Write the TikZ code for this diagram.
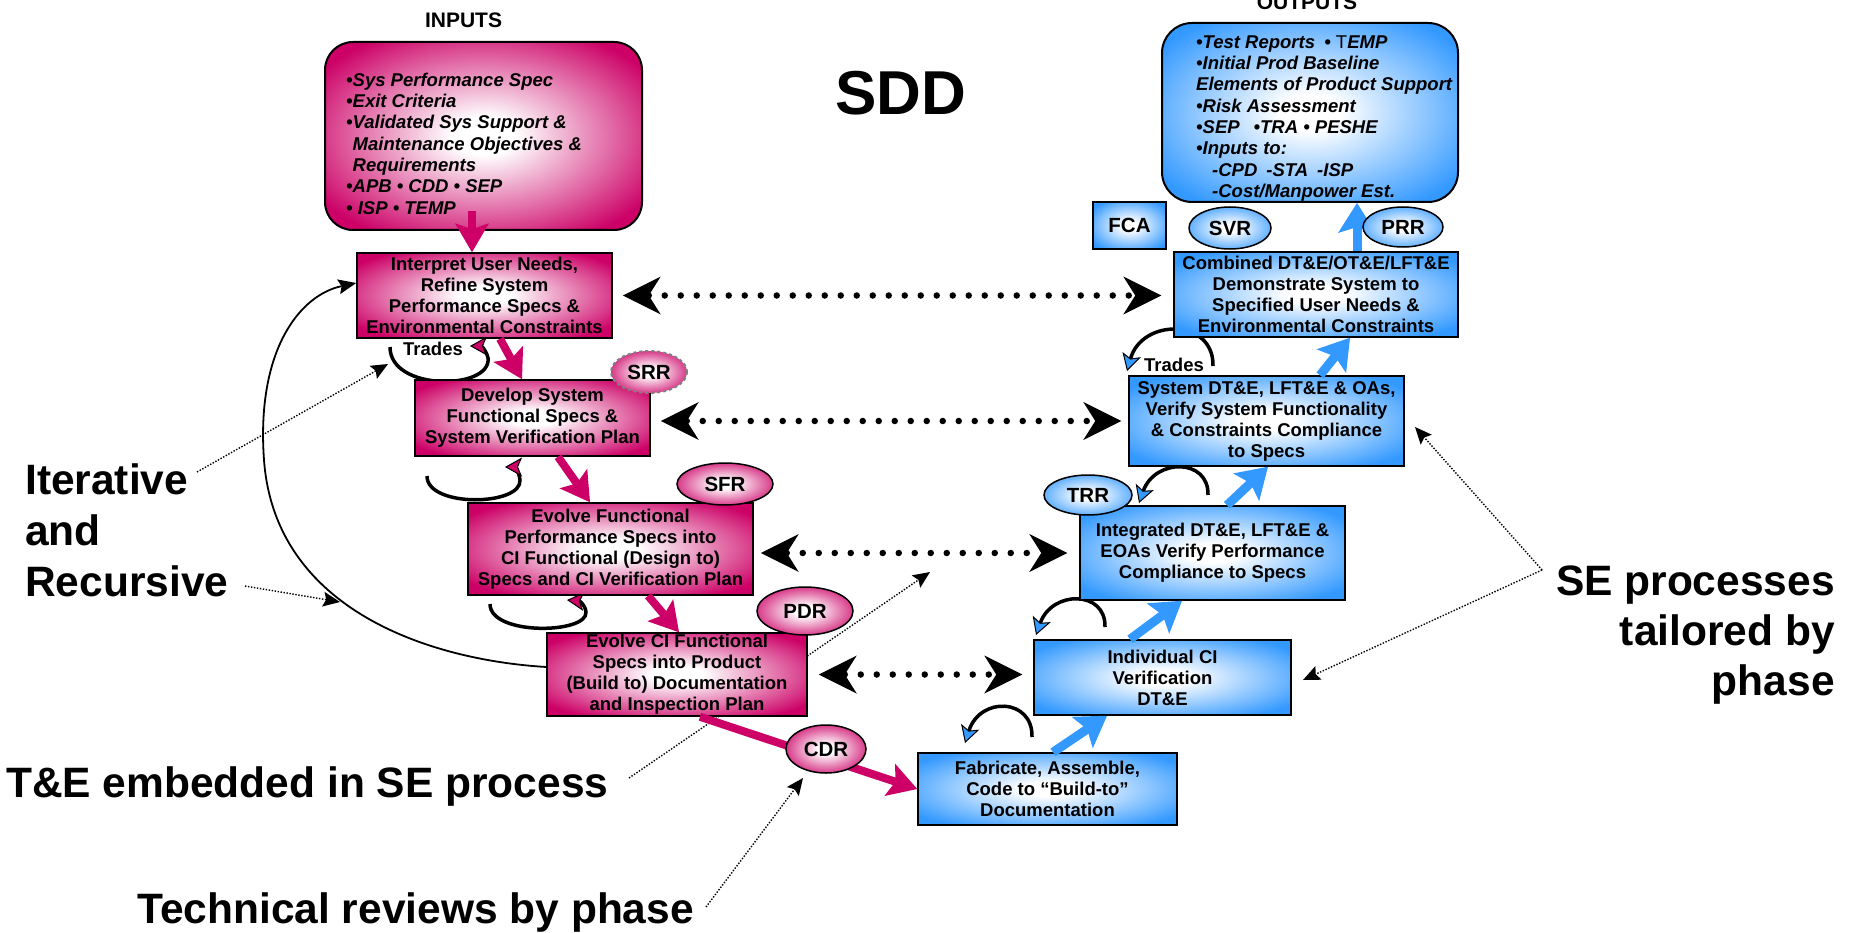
\documentclass[tikz,border=0pt]{standalone}
\usepackage{fontspec}
\setmainfont{Liberation Sans}
\usetikzlibrary{arrows.meta,shapes.geometric,calc}

\definecolor{pinkA}{RGB}{204,0,102}
\definecolor{blueA}{RGB}{51,153,255}
\pgfdeclareradialshading{pinkglow}{\pgfpoint{0bp}{0bp}}{color(0bp)=(white); color(5bp)=(white); color(31bp)=(pinkA); color(50bp)=(pinkA)}
\pgfdeclareradialshading{blueglow}{\pgfpoint{0bp}{0bp}}{color(0bp)=(white); color(5bp)=(white); color(31bp)=(blueA); color(50bp)=(blueA)}

\newcommand\boxfont{\bfseries\fontsize{18.5pt}{21pt}\selectfont}
\newcommand\listfont{\bfseries\itshape\fontsize{18.5pt}{21.3pt}\selectfont}
\newcommand\bigfont{\bfseries\fontsize{42.5pt}{51pt}\selectfont}
\newcommand\revfont{\bfseries\fontsize{20.5pt}{24pt}\selectfont}
\newcommand\headfont{\bfseries\fontsize{21pt}{24pt}\selectfont}

\tikzset{
  pbox/.style={rectangle, draw=black, line width=1.5pt, shade, shading=pinkglow,
    align=center, inner sep=0pt, font=\boxfont},
  bbox/.style={pbox, shading=blueglow},
  prev/.style={ellipse, draw=black, line width=1.5pt, shade, shading=pinkglow,
    inner sep=0pt, font=\revfont, text depth=-3pt},
  brev/.style={prev, shading=blueglow},
  pinkflow/.style={draw=pinkA, line width=8pt,
    -{Stealth[length=29pt,width=34pt,inset=6pt,line width=0pt]}},
  blueflow/.style={draw=blueA, line width=9pt,
    -{Stealth[length=30pt,width=38pt,inset=6pt,line width=0pt]}},
  dotlink/.style={line width=6.5pt, dash pattern=on 0pt off 16pt, line cap=round,
    {Stealth[length=38pt,width=38pt,inset=12pt,line width=0pt]}-{Stealth[length=38pt,width=38pt,inset=12pt,line width=0pt]}},
  note/.style={line width=1.4pt, dash pattern=on 1.4pt off 1.6pt,
    -{Stealth[length=17pt,width=15pt,inset=3pt,line width=0pt]}},
  loopP/.style={line width=3.5pt,
    -{Stealth[length=17pt,width=19pt,inset=4pt,line width=1pt,fill=pinkA]}},
  loopB/.style={line width=3.5pt,
    -{Stealth[length=17pt,width=19pt,inset=4pt,line width=1pt,fill=blueA]}},
  recur/.style={line width=1.8pt,
    -{Stealth[length=18pt,width=15pt,inset=3pt,line width=0pt]}},
  biglabel/.style={font=\bigfont, inner sep=0pt},
}

\begin{document}
\begin{tikzpicture}[x=1pt, y=-1pt]
\fill[white] (0,0) rectangle (1851,933);
\useasboundingbox (0,0) rectangle (1851,933);

% ---- annotation labels ----
\node[biglabel, anchor=base west] (lblIter) at (25,494) {Iterative};
\node[biglabel, anchor=base west] (lblAnd) at (25,545) {and};
\node[biglabel, anchor=base west] (lblRec) at (25,596) {Recursive};
\node[biglabel, anchor=base west] (lblTE) at (6,797) {T\&E embedded in SE process};
\node[biglabel, anchor=base west] (lblTR) at (137,923) {Technical reviews by phase};
\node[biglabel, anchor=base east] (lblSE1) at (1835,595) {SE processes};
\node[biglabel, anchor=base east] (lblSE2) at (1835,645) {tailored by};
\node[biglabel, anchor=base east] (lblSE3) at (1835,695) {phase};

\node[font=\bfseries\fontsize{62pt}{70pt}\selectfont, inner sep=0pt, anchor=base] (sdd) at (901,115) {SDD};
\node[font=\headfont, inner sep=0pt, anchor=base] (inlabel) at (463.5,28) {INPUTS};
\node[font=\headfont, inner sep=0pt, anchor=base] (outlabel) at (1307,10) {OUTPUTS};

% ---- annotation pointers (behind the boxes) ----
\coordinate (n1s) at (197,472); \coordinate (n1e) at (388,364);
\coordinate (n2s) at (245,586); \coordinate (n2e) at (340,602);
\coordinate (n3s) at (629,778); \coordinate (n3e) at (930,572);
\coordinate (n4s) at (706,907); \coordinate (n4e) at (803,778);
\coordinate (nj) at (1542,570);
\coordinate (n5e) at (1415,427); \coordinate (n6e) at (1303,680);
\draw[note] (n1s) -- (n1e);
\draw[note] (n2s) -- (n2e);
\draw[note] (n3s) -- (n3e);
\draw[note] (n4s) -- (n4e);
\draw[note] (nj) -- (n5e);
\draw[note] (nj) -- (n6e);

% ---- iteration loops ----
\draw[loopP] (390,347) .. controls (390,392) and (492,390) .. (488,358) .. controls (486,349) and (480,346) .. (470,346);
\draw[loopP] (427,476) .. controls (427,508) and (522,506) .. (520,480) .. controls (519,471) and (514,467) .. (505,467);
\draw[loopP] (490,604) .. controls (490,636) and (588,634) .. (586,612) .. controls (585,604) and (579,601) .. (567,600);
\draw[loopB] (1032,737) .. controls (1033,698) and (980,696) .. (965,743);
\draw[loopB] (1105,627) .. controls (1106,590) and (1052,590) .. (1036,635);
\draw[loopB] (1208,495) .. controls (1209,458) and (1155,458) .. (1139,503);
\draw[loopB] (1213,366) .. controls (1214,318) and (1142,318) .. (1127,371);

% ---- input / output boxes ----
\node[pbox, rounded corners=28pt, line width=2pt, minimum width=317pt, minimum height=188pt] (inputs) at (483.5,136) {};
\node[anchor=west, align=left, font=\listfont, inner sep=0pt] (inputstext) at (346,143.5)
  {•Sys Performance Spec\\
   •Exit Criteria\\
   •Validated Sys Support \&\\
   \phantom{•}Maintenance Objectives \&\\
   \phantom{•}Requirements\\
   •APB • CDD • SEP\\
   • ISP • TEMP};
\node[bbox, rounded corners=30pt, line width=2pt, minimum width=296pt, minimum height=179pt] (outputs) at (1310,112.5) {};
\node[anchor=west, align=left, font=\listfont, inner sep=0pt] (outputstext) at (1196,118.4)
  {•Test Reports\enspace• {\normalfont T}EMP\\
   •Initial Prod Baseline\\
   Elements of Product Support\\
   •Risk Assessment\\
   •SEP\hspace{14pt}•TRA • PESHE\\
   •Inputs to:\\
   \hspace*{16pt}-CPD\hspace{9pt}-STA\hspace{9pt}-ISP\\
   \hspace*{16pt}-Cost/Manpower Est.};

% ---- process boxes ----
\node[pbox, minimum width=255pt, minimum height=85pt] (interp) at (484.5,295.5)
  {Interpret User Needs,\\Refine System\\Performance Specs \&\\Environmental Constraints};
\node[pbox, minimum width=235pt, minimum height=76pt] (develop) at (532.5,418)
  {Develop System\\Functional Specs \&\\System Verification Plan};
\node[pbox, minimum width=285pt, minimum height=92pt] (evolvef) at (610.5,549)
  {Evolve Functional\\Performance Specs into\\CI Functional (Design to)\\Specs and CI Verification Plan};
\node[pbox, minimum width=260pt, minimum height=83pt] (evolveci) at (677,674.5)
  {Evolve CI Functional\\Specs into Product\\(Build to) Documentation\\and Inspection Plan};
\node[bbox, minimum width=259pt, minimum height=72pt] (fab) at (1047.5,789)
  {Fabricate, Assemble,\\Code to “Build-to”\\Documentation};
\node[bbox, minimum width=257pt, minimum height=75pt] (indiv) at (1162.5,677.5)
  {Individual CI\\Verification\\DT\&E};
\node[bbox, minimum width=265pt, minimum height=94pt] (integ) at (1212.5,553)
  {Integrated DT\&E, LFT\&E \&\\EOAs Verify Performance\\Compliance to Specs};
\node[bbox, minimum width=275pt, minimum height=90pt] (sys) at (1266.5,421)
  {System DT\&E, LFT\&E \& OAs,\\Verify System Functionality\\\& Constraints Compliance\\to Specs};
\node[bbox, minimum width=284pt, minimum height=85pt] (comb) at (1316,294.5)
  {Combined DT\&E/OT\&E/LFT\&E\\Demonstrate System to\\Specified User Needs \&\\Environmental Constraints};
\node[bbox, minimum width=73pt, minimum height=47pt, font=\revfont] (fca) at (1129.5,225.5) {FCA};

% ---- recursion path ----
\draw[recur] ([yshift=7.5pt]evolveci.west) .. controls (430,660) and (275,610) .. (264,460)
  .. controls (256,350) and (300,295) .. ([yshift=12.5pt]interp.west);

% ---- flow arrows ----
\draw[pinkflow] ([xshift=-11.5pt,yshift=20pt]inputs.south) -- ([xshift=-12.5pt]interp.north);
\draw[pinkflow] ([xshift=15.5pt]interp.south) -- ([xshift=-10.5pt]develop.north);
\draw[pinkflow] ([xshift=25.5pt]develop.south) -- ([xshift=-20.5pt]evolvef.north);
\draw[pinkflow] ([xshift=37.5pt]evolvef.south) -- ([xshift=2pt]evolveci.north);
\draw[pinkflow] ([xshift=23pt]evolveci.south) -- (fab.west);
\draw[blueflow] ([xshift=5.5pt]fab.north) -- ([xshift=-55.5pt]indiv.south);
\draw[blueflow] ([xshift=-32.5pt]indiv.north) -- ([xshift=-30.5pt]integ.south);
\draw[blueflow] ([xshift=14.5pt]integ.north) -- ([xshift=1.5pt]sys.south);
\draw[blueflow] ([xshift=53.5pt]sys.north) -- ([xshift=34pt]comb.south);
\draw[blueflow] ([xshift=41pt]comb.north) -- ([xshift=47pt]outputs.south);

% ---- dotted correspondence links ----
\draw[dotlink, shorten <=10pt, shorten >=12pt] (interp.east) -- (interp.east -| comb.west);
\draw[dotlink, shorten <=10pt, shorten >=7pt] (sys.west -| develop.east) -- (sys.west);
\draw[dotlink, shorten <=7pt, shorten >=12pt] (integ.west -| evolvef.east) -- (integ.west);
\draw[dotlink, shorten <=11pt, shorten >=11pt] (evolveci.east) -- (evolveci.east -| indiv.west);

% ---- technical reviews ----
\node[prev, minimum width=76pt, minimum height=42pt, draw=gray, dashed, line width=2pt] (srr) at (649,372) {SRR};
\node[prev, minimum width=96pt, minimum height=42pt] (sfr) at (725,484) {SFR};
\node[prev, minimum width=96pt, minimum height=48pt] (pdr) at (805,611) {PDR};
\node[prev, minimum width=80pt, minimum height=48pt] (cdr) at (826,749) {CDR};
\node[brev, minimum width=88pt, minimum height=40pt] (trr) at (1088,495) {TRR};
\node[brev, minimum width=82pt, minimum height=42pt] (svr) at (1230,228) {SVR};
\node[brev, minimum width=80pt, minimum height=40pt] (prr) at (1403,227) {PRR};

% ---- trade labels ----
\node[font=\boxfont, inner sep=0pt] (tradesL) at (433,349) {Trades};
\node[font=\boxfont, inner sep=0pt] (tradesR) at (1174,365) {Trades};
\end{tikzpicture}
\end{document}
